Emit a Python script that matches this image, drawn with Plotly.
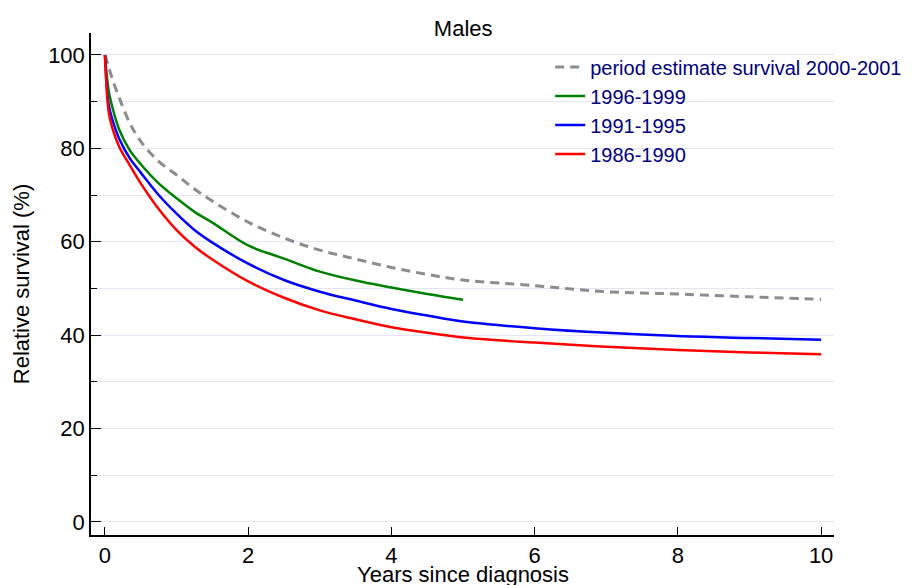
import plotly.graph_objects as go

years = [0, 0.05, 0.1, 0.2, 0.35, 0.5, 0.75, 1, 1.25, 1.5, 2, 2.5, 3, 3.5, 4, 4.5, 5, 6, 7, 8, 9, 10]
period_2000_2001 = [100, 97.5, 95, 90.8, 85.3, 81.5, 77.2, 74.3, 71.3, 68.7, 64.2, 60.8, 58.2, 56.3, 54.5, 53.0, 51.8, 50.6, 49.3, 48.8, 48.2, 47.7]
years_9699 = [0, 0.05, 0.1, 0.2, 0.35, 0.5, 0.75, 1, 1.25, 1.5, 2, 2.5, 3, 3.5, 4, 4.5, 5]
c1996_1999 = [100, 92.5, 89, 84, 79.5, 76.6, 72.5, 69.3, 66.4, 64.1, 59.2, 56.4, 53.6, 51.7, 50.2, 48.8, 47.6]
c1991_1995 = [100, 89.5, 86.3, 82, 77.8, 74.8, 70, 66, 62.5, 59.8, 55.3, 51.8, 49.3, 47.4, 45.6, 44.2, 42.9, 41.5, 40.5, 39.8, 39.4, 39.0]
c1986_1990 = [100, 88, 84.5, 80.3, 76.3, 72.5, 67, 62.5, 59, 56.2, 51.5, 48, 45.3, 43.4, 41.7, 40.5, 39.5, 38.4, 37.5, 36.8, 36.3, 35.9]

x_ticks = [0, 2, 4, 6, 8, 10]
y_ticks = [0, 20, 40, 60, 80, 100]
x_title = "Years since diagnosis"

fig = go.Figure()
fig.add_trace(go.Scatter(x=years, y=period_2000_2001, mode="lines", name="period estimate survival 2000-2001",
                         line=dict(color="#8c8c8c", width=3, dash="9px,6px"), line_shape="spline"))
fig.add_trace(go.Scatter(x=years_9699, y=c1996_1999, mode="lines", name="1996-1999",
                         line=dict(color="#008000", width=2.5), line_shape="spline"))
fig.add_trace(go.Scatter(x=years, y=c1991_1995, mode="lines", name="1991-1995",
                         line=dict(color="#0000ff", width=2.5), line_shape="spline"))
fig.add_trace(go.Scatter(x=years, y=c1986_1990, mode="lines", name="1986-1990",
                         line=dict(color="#ff0000", width=2.5), line_shape="spline"))

grid_col = "#e4e4f8"
fig.update_layout(
    width=914, height=577,
    margin=dict(l=83, r=88, t=25, b=50),
    paper_bgcolor="white", plot_bgcolor="white",
    font=dict(family="Liberation Sans, Arial, sans-serif", color="black", size=20),
    title=dict(text="Males", x=0.498, xanchor="center", y=0.9653, yanchor="middle",
               font=dict(size=22, color="black")),
    showlegend=True,
    legend=dict(x=0.618, y=0.971, xanchor="left", yanchor="top",
                font=dict(size=20, color="#000080"), bgcolor="rgba(0,0,0,0)",
                itemwidth=30, tracegroupgap=0),
    xaxis=dict(range=[-0.195, 10.18], tickvals=x_ticks, ticks="inside", ticklen=8,
               tickcolor="black", showline=True, linecolor="black", linewidth=1.5,
               showgrid=False, zeroline=False, automargin=False,
               tickfont=dict(size=22)),
    yaxis=dict(range=[-2.8, 104.7], tickvals=y_ticks, ticks="inside", ticklen=10,
               tickcolor="black", showline=True, linecolor="black", linewidth=1.5,
               showgrid=True, gridcolor=grid_col, gridwidth=1, zeroline=False, automargin=False,
               minor=dict(tickvals=[10, 30, 50, 70, 90], ticks="inside", ticklen=6,
                          tickcolor="black", showgrid=True, gridcolor=grid_col),
               title=dict(text="Relative survival (%)", font=dict(size=22), standoff=12),
               tickfont=dict(size=22)),
    annotations=[dict(text=x_title, xref="paper", yref="paper", x=0.5, y=-0.0777,
                      xanchor="center", yanchor="middle", showarrow=False,
                      font=dict(size=22, color="black"))],
)

fig.write_html("out.html")
